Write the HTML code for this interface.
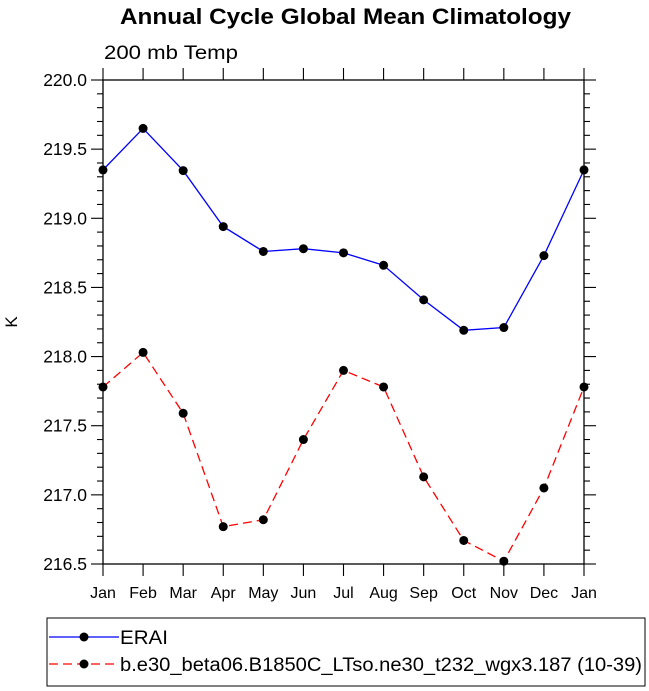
<!DOCTYPE html>
<html><head><meta charset="utf-8"><style>
body{margin:0;background:#fff;}
svg{display:block;font-family:"Liberation Sans",Arial,sans-serif;}
</style></head><body>
<svg id="chart" width="649" height="691" viewBox="0 0 649 691" xmlns="http://www.w3.org/2000/svg">
<text x="120" y="24" font-size="22" font-weight="bold" textLength="451" lengthAdjust="spacingAndGlyphs">Annual Cycle Global Mean Climatology</text>
<text x="104" y="59" font-size="19" textLength="134" lengthAdjust="spacingAndGlyphs">200 mb Temp</text>
<text transform="translate(17,322) rotate(-90)" text-anchor="middle" font-size="17">K</text>
<g id="axes"></g>
<g id="series"></g>
<rect x="47" y="618" width="598" height="68" fill="none" stroke="#000" stroke-width="1"/>
<g>
<line x1="49" y1="637" x2="119" y2="637" stroke="#0000ff" stroke-width="1.3"/>
<circle cx="84" cy="637" r="4.5" fill="#000"/>
<text x="120" y="644" font-size="19" textLength="48" lengthAdjust="spacingAndGlyphs">ERAI</text>
</g>
<g>
<line x1="49" y1="664" x2="119" y2="664" stroke="#ff0000" stroke-width="1.3" stroke-dasharray="9,5"/>
<circle cx="84" cy="664" r="4.5" fill="#000"/>
<text x="120" y="671" font-size="19" textLength="522" lengthAdjust="spacingAndGlyphs">b.e30_beta06.B1850C_LTso.ne30_t232_wgx3.187 (10-39)</text>
</g>
</svg>
<script>
const months = ["Jan","Feb","Mar","Apr","May","Jun","Jul","Aug","Sep","Oct","Nov","Dec","Jan"];
const eraiValues = [219.35,219.65,219.345,218.94,218.76,218.78,218.75,218.66,218.41,218.19,218.21,218.73,219.35];
const modelValues = [217.78,218.03,217.59,216.77,216.82,217.40,217.90,217.78,217.13,216.67,216.52,217.05,217.78];
const yTicks = [216.5,217.0,217.5,218.0,218.5,219.0,219.5,220.0];
const yTickLabels = ["216.5","217.0","217.5","218.0","218.5","219.0","219.5","220.0"];

const L=103,R=584,T=80,B=564,YMIN=216.5,YMAX=220.0;
const xs=i=>L+(R-L)*i/(months.length-1);
const ys=v=>B-(v-YMIN)/(YMAX-YMIN)*(B-T);
const NS="http://www.w3.org/2000/svg";
function mk(tag,attrs,parent){const e=document.createElementNS(NS,tag);for(const k in attrs)e.setAttribute(k,attrs[k]);parent.appendChild(e);return e;}
const ax=document.getElementById('axes');
const frame=mk('rect',{x:L,y:T,width:R-L,height:B-T,fill:'none',stroke:'#000','stroke-width':1.3},ax);


for(let k=0;k<=35;k++){
  const v=YMIN+k*0.1, y=ys(v), major=(k%5===0), len=major?12:6;
  const t1=mk('line',{x1:L-len,y1:y,x2:L,y2:y,stroke:'#000','stroke-width':1.1},ax);
  
  
  const t2=mk('line',{x1:R,y1:y,x2:R+len,y2:y,stroke:'#000','stroke-width':1.1},ax);
  
  
}
yTicks.forEach((v,i)=>{
  const t=mk('text',{x:87,y:ys(v)+6,'text-anchor':'end','font-size':17.5},ax);
  t.textContent=yTickLabels[i];
  
  
});
months.forEach((m,i)=>{
  const x=xs(i);
  const a=mk('line',{x1:x,y1:B,x2:x,y2:B+12,stroke:'#000','stroke-width':1.1},ax);
  
  
  const b=mk('line',{x1:x,y1:T-12,x2:x,y2:T,stroke:'#000','stroke-width':1.1},ax);
  
  
  const t=mk('text',{x:x,y:B+34,'text-anchor':'middle','font-size':16},ax);
  t.textContent=m;
  
  
});
const sg=document.getElementById('series');
function drawSeries(vals,color,dash,name){
  const pts=vals.map((v,i)=>xs(i)+','+ys(v)).join(' ');
  const pl=mk('polyline',{points:pts,fill:'none',stroke:color,'stroke-width':1.3},sg);
  if(dash)pl.setAttribute('stroke-dasharray',dash);
  
  
  vals.forEach((v,i)=>{
    const c=mk('circle',{cx:xs(i),cy:ys(v),r:4.5,fill:'#000'},sg);
    
    
  });
}
drawSeries(eraiValues,'#0000ff',null,'erai');
drawSeries(modelValues,'#ff0000','9,5','model');
</script>
</body></html>
